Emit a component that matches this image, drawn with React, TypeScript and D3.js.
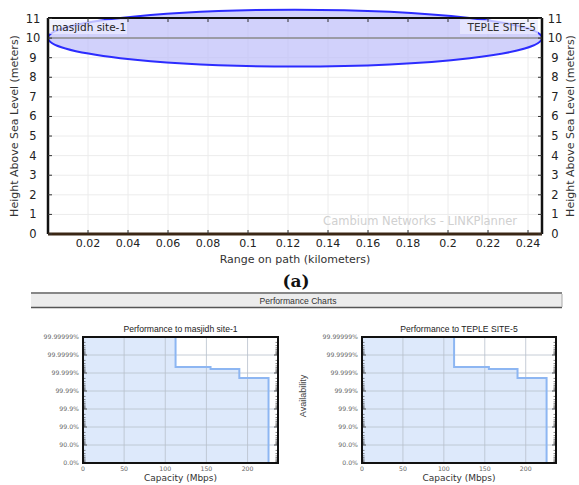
import React from "react";
import * as d3 from "d3";

// ---- Top chart data (path profile) ----
const rangeDomainKm = [0, 0.247];
const heightTicks = [0, 1, 2, 3, 4, 5, 6, 7, 8, 9, 10, 11];
const rangeTicks = [0.02, 0.04, 0.06, 0.08, 0.1, 0.12, 0.14, 0.16, 0.18, 0.2, 0.22, 0.24];
const terrainRange = [0, 0.247];
const terrainHeight = [0, 0];
const antennaHeights = [10, 10]; // left, right (m)
const fresnelRadius = 1.45; // max radius (m)
const siteNames = ["masjidh site-1", "TEPLE SITE-5"];

// ---- Bottom charts data (performance) ----
const perfTitles = ["Performance to masjidh site-1", "Performance to TEPLE SITE-5"];
const capacityTicks = [0, 50, 100, 150, 200];
const availabilityLabels = ["0.0%", "90.0%", "99.0%", "99.9%", "99.99%", "99.999%", "99.9999%", "99.99999%"];
const unavailabilityTicks = [1, 1e-1, 1e-2, 1e-3, 1e-4, 1e-5, 1e-6, 1e-7];
const stepCapacity = [112.5, 155, 190, 225.5]; // Mbps
const stepUnavailability = [4.6e-6, 6.0e-6, 1.9e-5]; // fraction of time

function TopChart() {
  const L = 48, R = 542, T = 18, B = 234;
  const x = d3.scaleLinear().domain(rangeDomainKm).range([L, R]);
  const y = d3.scaleLinear().domain([0, 11]).range([B, T + 0.5]);
  const cx = (x(rangeDomainKm[0]) + x(rangeDomainKm[1])) / 2;
  const rx = (x(rangeDomainKm[1]) - x(rangeDomainKm[0])) / 2;
  const ry = y(antennaHeights[0] - fresnelRadius) - y(antennaHeights[0]);
  const terrainLine = d3.line<number>().x((d, i) => x(terrainRange[i])).y((d) => y(d));
  const font = "DejaVu Sans, sans-serif";
  return (
    <g>
      {/* grid */}
      {rangeTicks.map((t) => (
        <line key={"gx" + t} x1={x(t)} x2={x(t)} y1={T} y2={B} stroke="#ececec" strokeWidth={1} />
      ))}
      {heightTicks.map((t) => (
        <line key={"gy" + t} x1={L} x2={R} y1={y(t)} y2={y(t)} stroke="#ececec" strokeWidth={1} />
      ))}
      {/* watermark */}
      <text x={517} y={225} textAnchor="end" fontFamily={font} fontSize={11.5} fill="#d0d0d0">
        Cambium Networks - LINKPlanner
      </text>
      {/* Fresnel ellipse */}
      <ellipse cx={cx} cy={y(antennaHeights[0])} rx={rx} ry={ry} fill="rgba(190,190,250,0.7)" stroke="#2c2cff" strokeWidth={2} />
      {/* line of sight */}
      <line x1={x(rangeDomainKm[0])} y1={y(antennaHeights[0])} x2={x(rangeDomainKm[1])} y2={y(antennaHeights[1])} stroke="#8a8a8a" strokeWidth={1.5} />
      {/* site labels */}
      <rect x={50} y={20} width={77} height={14} fill="rgba(235,235,255,0.75)" />
      <text x={52} y={31} fontFamily={font} fontSize={10.5} fill="#222">{siteNames[0]}</text>
      <rect x={460} y={20} width={78} height={14} fill="rgba(235,235,255,0.75)" />
      <text x={536} y={31} textAnchor="end" fontFamily={font} fontSize={10.5} fill="#333">{siteNames[1]}</text>
      {/* frame */}
      <line x1={L} x2={R} y1={T} y2={T} stroke="#111" strokeWidth={2} />
      <line x1={L} x2={L} y1={T} y2={B} stroke="#111" strokeWidth={2.5} />
      <line x1={R} x2={R} y1={T} y2={B} stroke="#111" strokeWidth={2.5} />
      <path d={terrainLine(terrainHeight) || ""} stroke="#3a2614" strokeWidth={3} fill="none" />
      {/* ticks */}
      {rangeTicks.map((t) => (
        <g key={"tx" + t}>
          <line x1={x(t)} x2={x(t)} y1={B} y2={B - 4} stroke="#333" />
          <line x1={x(t)} x2={x(t)} y1={T} y2={T + 4} stroke="#333" />
          <text x={x(t)} y={247} textAnchor="middle" fontFamily={font} fontSize={11} fill="#222">{String(t)}</text>
        </g>
      ))}
      {heightTicks.map((t) => (
        <g key={"ty" + t}>
          <line x1={L} x2={L + 4} y1={y(t)} y2={y(t)} stroke="#333" />
          <line x1={R} x2={R - 4} y1={y(t)} y2={y(t)} stroke="#333" />
          <text x={33} y={y(t) + 4} textAnchor="middle" fontFamily={font} fontSize={11.5} fill="#222">{t}</text>
          <text x={555} y={y(t) + 4} textAnchor="middle" fontFamily={font} fontSize={11.5} fill="#222">{t}</text>
        </g>
      ))}
      {/* axis titles */}
      <text x={295} y={263} textAnchor="middle" fontFamily={font} fontSize={11} fill="#333">Range on path (kilometers)</text>
      <text transform={`translate(18,${(T + B) / 2}) rotate(-90)`} textAnchor="middle" fontFamily={font} fontSize={11} fill="#333">
        Height Above Sea Level (meters)
      </text>
      <text transform={`translate(574,${(T + B) / 2}) rotate(-90)`} textAnchor="middle" fontFamily={font} fontSize={11} fill="#333">
        Height Above Sea Level (meters)
      </text>
    </g>
  );
}

function PerfChart({ left, right, title, showYLabel }: { left: number; right: number; title: string; showYLabel: boolean }) {
  const T = 337, B = 463;
  const x = d3.scaleLinear().domain([0, 237]).range([left, right]);
  const y = d3.scaleLog().domain([1, 1e-7]).range([B, T]);
  const top = 1e-7;
  const pts: [number, number][] = [[stepCapacity[0], top]];
  stepUnavailability.forEach((u, i) => {
    pts.push([stepCapacity[i], u]);
    pts.push([stepCapacity[i + 1], u]);
  });
  pts.push([stepCapacity[stepCapacity.length - 1], 1]);
  const line = d3.line<[number, number]>().x((d) => x(d[0])).y((d) => y(d[1]));
  const area = [[0, 1] as [number, number], [0, top] as [number, number], ...pts];
  const minor: number[] = [];
  for (let e = 0; e < 7; e++) {
    for (let k = 2; k <= 9; k++) minor.push(k * Math.pow(10, -(e + 1)));
  }
  const font = "DejaVu Sans, sans-serif";
  return (
    <g>
      <path d={(line(area) || "") + "Z"} fill="#dde9fb" stroke="none" />
      {capacityTicks.slice(1).map((t) => (
        <line key={"gx" + t} x1={x(t)} x2={x(t)} y1={T} y2={B} stroke="#b8c0cc" strokeWidth={0.8} />
      ))}
      {unavailabilityTicks.slice(1, -1).map((t) => (
        <line key={"gy" + t} x1={left} x2={right} y1={y(t)} y2={y(t)} stroke="#b8c0cc" strokeWidth={0.8} />
      ))}
      <path d={line(pts) || ""} fill="none" stroke="#8db6f2" strokeWidth={2} />
      {minor.map((m, i) => (
        <g key={"m" + i}>
          <line x1={left} x2={left + 2.5} y1={y(m)} y2={y(m)} stroke="#333" strokeWidth={0.6} />
          <line x1={right} x2={right - 2.5} y1={y(m)} y2={y(m)} stroke="#333" strokeWidth={0.6} />
        </g>
      ))}
      {unavailabilityTicks.map((t, i) => (
        <g key={"ty" + i}>
          <line x1={left} x2={left + 4} y1={y(t)} y2={y(t)} stroke="#333" strokeWidth={0.8} />
          <line x1={right} x2={right - 4} y1={y(t)} y2={y(t)} stroke="#333" strokeWidth={0.8} />
          <text x={left - 4} y={y(t) + 2.2} textAnchor="end" fontFamily={font} fontSize={6.2} fill="#666">{availabilityLabels[i]}</text>
        </g>
      ))}
      {capacityTicks.map((t) => (
        <text key={"tx" + t} x={x(t)} y={471} textAnchor="middle" fontFamily={font} fontSize={6.2} fill="#666">{t}</text>
      ))}
      <rect x={left} y={T} width={right - left} height={B - T} fill="none" stroke="#111" strokeWidth={2} />
      <text x={(left + right) / 2} y={332} textAnchor="middle" fontFamily="Liberation Sans, Arial, sans-serif" fontSize={8.6} fill="#222">{title}</text>
      <text x={(left + right) / 2} y={481} textAnchor="middle" fontFamily={font} fontSize={9} fill="#333">Capacity (Mbps)</text>
      {showYLabel && (
        <text transform={`translate(306,${(T + B) / 2 - 4}) rotate(-90)`} textAnchor="middle" fontFamily="Liberation Sans, Arial, sans-serif" fontSize={9} fill="#444">Availability</text>
      )}
    </g>
  );
}

export default function App() {
  return (
    <svg width={579} height={485} style={{ position: "absolute", left: 0, top: 0, background: "#fff" }}>
      <rect width={579} height={485} fill="#fff" />
      <TopChart />
      <text x={296} y={287} textAnchor="middle" fontFamily="DejaVu Serif, Liberation Serif, serif" fontWeight="bold" fontSize={17} fill="#111">(a)</text>
      <line x1={31} x2={562} y1={293} y2={293} stroke="#111" strokeWidth={1.2} />
      <rect x={31} y={294} width={531} height={13} fill="#ececec" />
      <line x1={31} x2={562} y1={307.5} y2={307.5} stroke="#555" strokeWidth={1.6} />
      <line x1={562} x2={562} y1={294} y2={307} stroke="#aaa" strokeWidth={1} />
      <text x={298} y={304} textAnchor="middle" fontFamily="Liberation Sans, Arial, sans-serif" fontSize={8.6} fill="#333">Performance Charts</text>
      <PerfChart left={83} right={278} title={perfTitles[0]} showYLabel={false} />
      <PerfChart left={362} right={556} title={perfTitles[1]} showYLabel={true} />
    </svg>
  );
}
